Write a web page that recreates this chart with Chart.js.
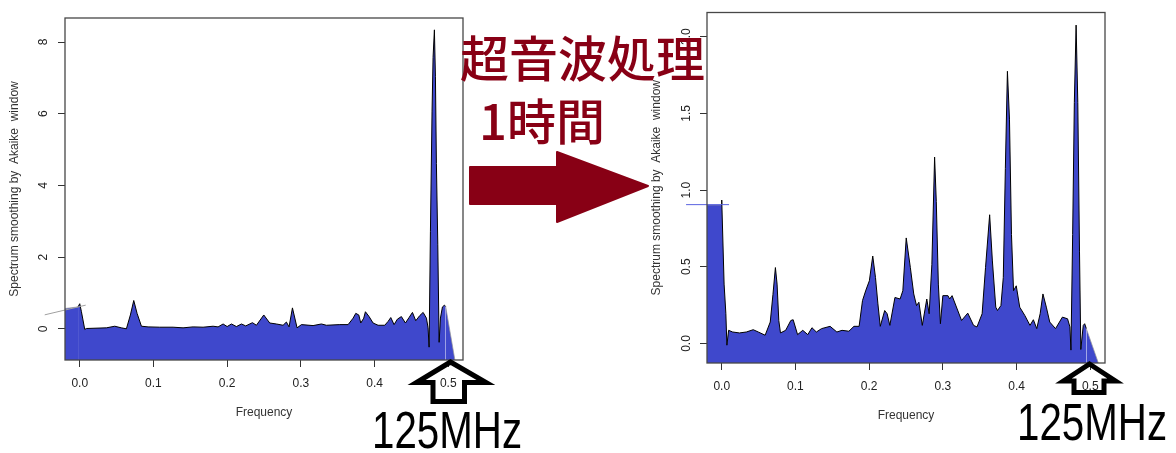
<!DOCTYPE html>
<html>
<head>
<meta charset="utf-8">
<script src="https://cdn.jsdelivr.net/npm/chart.js@4.4.1/dist/chart.umd.min.js"></script>
<style>
  html, body { margin: 0; padding: 0; background: #fff; }
  #stage { position: relative; width: 1176px; height: 453px; overflow: hidden; background: #fff; }
  #stage canvas { position: absolute; left: 0; top: 0; }
  #stage svg { position: absolute; left: 0; top: 0; }
  .jp {
    position: absolute; color: #880015; white-space: nowrap;
    font-family: "Noto Sans CJK JP", sans-serif; font-weight: 500;
    font-size: 49px; line-height: 1;
  }
  .mhz {
    position: absolute; color: #000; white-space: nowrap;
    font-family: "Liberation Sans", Arial, sans-serif;
    font-size: 51px; line-height: 1;
    transform: scaleX(0.79); transform-origin: 0 0;
  }
</style>
</head>
<body>
<div id="stage">
  <canvas id="before-chart" width="1176" height="453"></canvas>
  <canvas id="after-chart" width="1176" height="453"></canvas>
  <svg width="1176" height="453" viewBox="0 0 1176 453">
    <!-- big red arrow between the plots -->
    <path d="M470,167 L557,167 L557,152 L648,186 L557,222 L557,204 L470,204 Z"
          fill="#880015" stroke="#880015" stroke-width="2" stroke-linejoin="round"/>
    <!-- outlined arrows pointing at 0.5 -->
    <path d="M450.5,362 L486,382.5 L464.5,382.5 L464.5,401.5 L433,401.5 L433,382.5 L416.5,382.5 Z"
          fill="none" stroke="#000" stroke-width="5"/>
    <path d="M1089.5,364 L1115.5,381 L1104,381 L1104,392.5 L1074,392.5 L1074,381 L1063.5,381 Z"
          fill="none" stroke="#000" stroke-width="5"/>
  </svg>
  <div class="jp" style="left:460px; top:31px;">超音波処理</div>
  <div class="jp" style="left:479px; top:94px;">1時間</div>
  <div class="mhz" style="left:372px; top:405px;">125MHz</div>
  <div class="mhz" style="left:1017px; top:397px;">125MHz</div>
</div>

<script>
// ---- data ----
const freqTicks = [0, 0.1, 0.2, 0.3, 0.4, 0.5];
const beforeTicks = [0, 2, 4, 6, 8];
const afterTicks = [0, 0.5, 1, 1.5, 2];

// before treatment
const beforeFreq = [-0.0204, -0.0023, 0.0, 0.0023, 0.0068, 0.009, 0.0362, 0.0475, 0.0565, 0.0633,
  0.0687, 0.0733, 0.0778, 0.0837, 0.0927, 0.1085, 0.1266, 0.1402, 0.1538, 0.1673,
  0.1809, 0.1877, 0.1945, 0.2, 0.2058, 0.2126, 0.2194, 0.2252, 0.2343, 0.2397,
  0.2497, 0.2578, 0.2668, 0.2759, 0.2804, 0.284, 0.2886, 0.2949, 0.3008, 0.3166,
  0.3279, 0.3347, 0.3528, 0.3641, 0.3709, 0.3745, 0.3786, 0.3813, 0.3853, 0.3876,
  0.3926, 0.398, 0.4048, 0.4138, 0.4184, 0.422, 0.4265, 0.431, 0.4364, 0.4419,
  0.4468, 0.4514, 0.4559, 0.4613, 0.4659, 0.4704, 0.4726, 0.474, 0.4758, 0.478,
  0.4794, 0.4812, 0.4826, 0.4839, 0.4858, 0.4876, 0.4894, 0.4921, 0.4948, 0.4965, 0.509];
const beforeSpec = [0.566, 0.611, 0.70, 0.476, -0.018, 0.009, 0.027, 0.072, 0.027, 0.0,
  0.386, 0.79, 0.43, 0.072, 0.054, 0.045, 0.045, 0.027, 0.054, 0.045,
  0.072, 0.054, 0.135, 0.063, 0.135, 0.063, 0.135, 0.081, 0.171, 0.099,
  0.386, 0.162, 0.135, 0.099, 0.189, 0.054, 0.584, 0.027, 0.117, 0.09,
  0.135, 0.099, 0.117, 0.117, 0.297, 0.431, 0.386, 0.162, 0.297, 0.476,
  0.341, 0.162, 0.099, 0.099, 0.207, 0.314, 0.117, 0.27, 0.341, 0.162,
  0.314, 0.458, 0.225, 0.368, 0.458, 0.297, 0.027, -0.512, 2.72, 6.05,
  7.57, 8.34, 7.03, 4.61, 2.36, -0.377, 0.3, 0.61, 0.66, 0.62, -0.87];
const beforeEdgeFreq = [-0.0475, 0.0081];
const beforeEdgeSpec = [0.39, 0.66];

// after 1 hour of ultrasonic treatment
const afterFreq = [-0.0204, -0.001, 0.0, 0.0032, 0.0056, 0.007, 0.0093, 0.0148, 0.024, 0.0334,
  0.0427, 0.0496, 0.0589, 0.0658, 0.0695, 0.0728, 0.0751, 0.0774, 0.0797, 0.0867,
  0.0937, 0.0969, 0.1029, 0.1099, 0.1168, 0.1224, 0.1284, 0.1354, 0.147, 0.1562,
  0.1632, 0.1725, 0.1794, 0.1864, 0.191, 0.1956, 0.2003, 0.2049, 0.2086, 0.2119,
  0.2151, 0.2211, 0.2244, 0.2281, 0.235, 0.242, 0.2457, 0.2503, 0.2559, 0.2605,
  0.2643, 0.2675, 0.2721, 0.2782, 0.2814, 0.2851, 0.2888, 0.2911, 0.2939, 0.2967,
  0.3, 0.3069, 0.3092, 0.3125, 0.3254, 0.3338, 0.3417, 0.3463, 0.3533, 0.3579,
  0.3635, 0.3672, 0.3718, 0.3741, 0.3788, 0.382, 0.3848, 0.3876, 0.3904, 0.3931,
  0.3959, 0.3996, 0.4043, 0.4112, 0.4182, 0.4228, 0.4274, 0.432, 0.4358, 0.4404,
  0.445, 0.4529, 0.4622, 0.4692, 0.4724, 0.4738, 0.4761, 0.4784, 0.4808, 0.4831,
  0.4854, 0.4872, 0.4905, 0.4924, 0.4947, 0.511];
const afterSpec = [0.903, 0.903, 0.935, 0.387, 0.194, -0.011, 0.086, 0.075, 0.069, 0.075,
  0.09, 0.075, 0.054, 0.14, 0.32, 0.495, 0.387, 0.15, 0.069, 0.086,
  0.15, 0.155, 0.058, 0.086, 0.058, 0.103, 0.075, 0.097, 0.112, 0.075,
  0.086, 0.08, 0.112, 0.112, 0.28, 0.348, 0.409, 0.57, 0.43, 0.258,
  0.112, 0.215, 0.194, 0.118, 0.30, 0.29, 0.344, 0.688, 0.495, 0.323,
  0.247, 0.269, 0.118, 0.29, 0.194, 0.516, 1.215, 0.925, 0.387, 0.129,
  0.312, 0.312, 0.29, 0.312, 0.15, 0.198, 0.118, 0.108, 0.194, 0.495,
  0.839, 0.538, 0.237, 0.215, 0.247, 0.43, 1.14, 1.774, 1.462, 0.71,
  0.344, 0.376, 0.237, 0.183, 0.118, 0.155, 0.097, 0.194, 0.323, 0.237,
  0.14, 0.097, 0.172, 0.161, 0.108, -0.043, 0.71, 1.57, 2.075, 1.57,
  0.602, -0.039, 0.118, 0.129, 0.097, -0.127];
const afterEdgeFreq = [-0.0484, 0.0099];
const afterEdgeSpec = [0.905, 0.905];

const Y_TITLE = 'Spectrum smoothing by  Akaike  window';
const AXIS_FONT = { family: "'Liberation Sans', Arial, sans-serif", size: 12 };
const FILL_BLUE = '#3F48CC';

function toPoints(xs, ys) {
  return xs.map((x, i) => ({ x, y: ys[i] }));
}

// R-style box round the plot region
const boxPlugin = {
  id: 'plotBox',
  afterDraw(chart) {
    const { ctx, chartArea: a } = chart;
    ctx.save();
    ctx.strokeStyle = '#474747';
    ctx.lineWidth = 1.3;
    ctx.strokeRect(a.left, a.top, a.right - a.left, a.bottom - a.top);
    ctx.restore();
  },
};

function spectrumChart(id, o) {
  return new Chart(document.getElementById(id), {
    type: 'line',
    data: {
      datasets: [
        {
          data: toPoints(o.edgeX, o.edgeY),
          borderColor: o.edgeColor,
          borderWidth: 1,
          pointRadius: 0,
          fill: false,
          clip: { left: 30, top: 0, right: 0, bottom: 0 },
        },
        {
          data: toPoints(o.freq, o.spec),
          borderColor: '#000',
          borderWidth: 1,
          backgroundColor: FILL_BLUE,
          fill: 'start',
          pointRadius: 0,
          tension: 0,
          segment: {
            borderColor: (c) =>
              c.p1.parsed.x <= o.lineFrom || c.p0.parsed.x >= o.lineTo ? o.tailColor : '#000',
          },
        },
      ],
    },
    options: {
      responsive: false,
      animation: false,
      events: [],
      layout: { padding: o.padding },
      plugins: { legend: { display: false }, tooltip: { enabled: false } },
      scales: {
        x: {
          type: 'linear',
          min: -0.02,
          max: 0.52,
          afterBuildTicks: (s) => { s.ticks = freqTicks.map((v) => ({ value: v })); },
          afterFit: (s) => { s.height = 60; },
          ticks: {
            callback: (v) => Number(v).toFixed(1),
            font: AXIS_FONT,
            color: '#222',
            padding: 9,
            maxRotation: 0,
            autoSkip: false,
          },
          grid: { drawOnChartArea: false, drawTicks: true, tickLength: 7, color: '#333' },
          border: { display: false },
          title: { display: true, text: 'Frequency', font: AXIS_FONT, color: '#333', padding: 0 },
        },
        y: {
          min: o.yMin,
          max: o.yMax,
          afterBuildTicks: (s) => { s.ticks = o.yTicks.map((v) => ({ value: v })); },
          afterFit: (s) => { s.width = o.yWidth; },
          ticks: {
            callback: o.yLabel,
            font: AXIS_FONT,
            color: '#222',
            minRotation: 90,
            maxRotation: 90,
            crossAlign: 'center',
            padding: o.yTickPad,
            autoSkip: false,
          },
          grid: { drawOnChartArea: false, drawTicks: true, tickLength: 7, color: '#333' },
          border: { display: false },
          title: {
            display: true,
            text: Y_TITLE,
            font: AXIS_FONT,
            color: '#333',
            padding: { top: o.yTitlePad, bottom: 0 },
          },
        },
      },
    },
    plugins: [boxPlugin],
  });
}

spectrumChart('before-chart', {
  freq: beforeFreq,
  spec: beforeSpec,
  edgeX: beforeEdgeFreq,
  edgeY: beforeEdgeSpec,
  edgeColor: '#a0a0a0',
  tailColor: 'rgba(150,150,150,0.7)',
  lineFrom: -0.002,
  lineTo: 0.4965,
  yMin: -0.87,
  yMax: 8.67,
  yTicks: beforeTicks,
  yLabel: (v) => String(v),
  yWidth: 65,
  yTickPad: 10.8,
  yTitlePad: 7,
  padding: { left: 0, right: 713, top: 6, bottom: 33 },
});

spectrumChart('after-chart', {
  freq: afterFreq,
  spec: afterSpec,
  edgeX: afterEdgeFreq,
  edgeY: afterEdgeSpec,
  edgeColor: '#5a63e0',
  tailColor: 'rgba(150,150,150,0.7)',
  lineFrom: -0.001,
  lineTo: 0.4947,
  yMin: -0.127,
  yMax: 2.157,
  yTicks: afterTicks,
  yLabel: (v) => Number(v).toFixed(1),
  yWidth: 67,
  yTickPad: 5.3,
  yTitlePad: 9.5,
  padding: { left: 640, right: 71, top: 9, bottom: 30 },
});
</script>
</body>
</html>
